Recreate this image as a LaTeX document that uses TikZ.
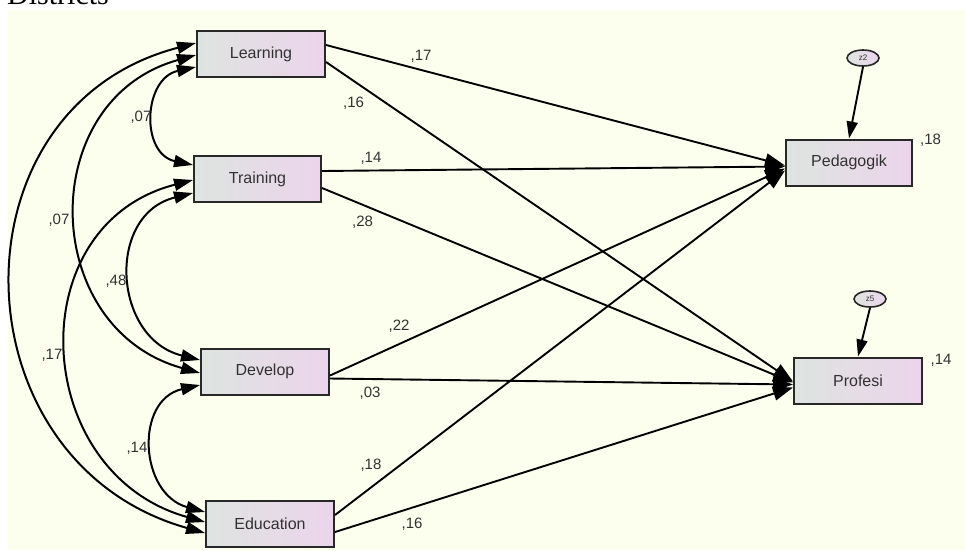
\documentclass[tikz,border=0pt]{standalone}
\usepackage{fontspec}
\setmainfont{Liberation Sans}
\newfontfamily\serifdoc{Liberation Serif}
\usetikzlibrary{arrows.meta,calc,shapes.geometric}
\definecolor{bgyellow}{RGB}{253,255,238}
\definecolor{boxleft}{RGB}{222,228,224}
\definecolor{boxright}{RGB}{236,212,236}
\definecolor{edgecol}{RGB}{40,40,40}
\definecolor{txtcol}{RGB}{50,50,50}
\begin{document}
\begin{tikzpicture}[x=1pt,y=-1pt,
 varbox/.style={draw=edgecol, line width=2pt, left color=boxleft, right color=boxright,
   minimum width=128pt, minimum height=46pt, inner sep=0pt,
   font=\fontsize{16}{19}\selectfont, text=txtcol},
 errnode/.style={ellipse, draw=edgecol, line width=1.6pt, left color=boxleft, right color=boxright,
   minimum width=32pt, minimum height=16pt, inner sep=0pt,
   font=\fontsize{8}{9}\selectfont, text=txtcol},
 coef/.style={font=\fontsize{15}{18}\selectfont, text=txtcol, inner sep=0pt},
 pathar/.style={draw=black, line width=1.9pt, -{Triangle[length=20pt,width=14pt]}},
 zar/.style={draw=black, line width=1.9pt, -{Triangle[length=17pt,width=11pt]}},
 cov/.style={draw=black, line width=2pt, {Triangle[length=19pt,width=12pt]}-{Triangle[length=19pt,width=12pt]}},
]
\useasboundingbox (0,0) rectangle (965,550);
\fill[white] (0,0) rectangle (965,550);
\fill[bgyellow] (8,10) rectangle (965,550);
\node[anchor=base west, inner sep=0pt, font=\serifdoc\fontsize{30}{36}\selectfont] (title) at (7,4) {Districts};

% variables
\node[varbox] (lea) at (261,54) {Learning};
\node[varbox, minimum width=127pt] (tra) at (257.5,179) {Training};
\node[varbox] (dev) at (265,371.5) {Develop};
\node[varbox] (edu) at (270,524) {Education};
\node[varbox, minimum width=126pt] (ped) at (849,162.5) {Pedagogik};
\node[varbox] (pro) at (858,380.5) {Profesi};
\node[errnode] (z2) at (863,58) {z2};
\node[errnode] (z5) at (870,299) {z5};

% regression paths
\draw[pathar] ($(lea.east)+(0,-9)$) -- ($(ped.west)+(0,3)$);
\draw[pathar] ($(lea.east)+(0,8)$) -- ($(pro.west)+(0,1)$);
\draw[pathar] ($(tra.east)+(0,-8)$) -- ($(ped.west)+(0,4)$);
\draw[pathar] ($(tra.east)+(0,9)$) -- ($(pro.west)+(0,2)$);
\draw[pathar] ($(dev.east)+(0,4)$) -- ($(ped.west)+(0,6)$);
\draw[pathar] ($(dev.east)+(0,7)$) -- ($(pro.west)+(0,4)$);
\draw[pathar] ($(edu.east)+(0,-9)$) -- ($(ped.west)+(0,8)$);
\draw[pathar] ($(edu.east)+(0,8)$) -- ($(pro.west)+(0,7)$);
\draw[zar] (z2.south) -- (ped.north);
\draw[zar] (z5.south) -- (pro.north);

% covariances
\draw[cov] ($(lea.west)+(0,13)$) .. controls (143.1,78.3) and (140.1,153.7) .. ($(tra.west)+(0,-14)$);
\draw[cov] ($(lea.west)+(0,1)$) .. controls (34.8,99.7) and (38.8,328.3) .. ($(dev.west)+(0,1.5)$);
\draw[cov] ($(lea.west)+(0,-11)$) .. controls (-54,108) and (-45,463) .. ($(edu.west)+(0,9)$);
\draw[cov] ($(tra.west)+(0,14)$) .. controls (105.7,214.5) and (112.7,338.5) .. ($(dev.west)+(0,-11.5)$);
\draw[cov] ($(tra.west)+(0,1)$) .. controls (18.2,224.9) and (30.2,473.1) .. ($(edu.west)+(0,-2)$);
\draw[cov] ($(dev.west)+(0,13.5)$) .. controls (134.3,400) and (139.3,494) .. ($(edu.west)+(0,-12)$);

% coefficients
\node[coef] (c1) at (421,56) {,17};
\node[coef] (c2) at (353.5,103) {,16};
\node[coef] (c3) at (371,158) {,14};
\node[coef] (c4) at (362.5,222) {,28};
\node[coef] (c5) at (399,326) {,22};
\node[coef] (c6) at (370,393) {,03};
\node[coef] (c7) at (371,465) {,18};
\node[coef] (c8) at (412,524) {,16};
\node[coef] (c9) at (141,117) {,07};
\node[coef] (c10) at (59,220) {,07};
\node[coef] (c11) at (116,281) {,48};
\node[coef] (c12) at (52,355) {,17};
\node[coef] (c13) at (137,448) {,14};
\node[coef] (r1) at (930.5,140) {,18};
\node[coef] (r2) at (941,360) {,14};
\end{tikzpicture}
\end{document}
